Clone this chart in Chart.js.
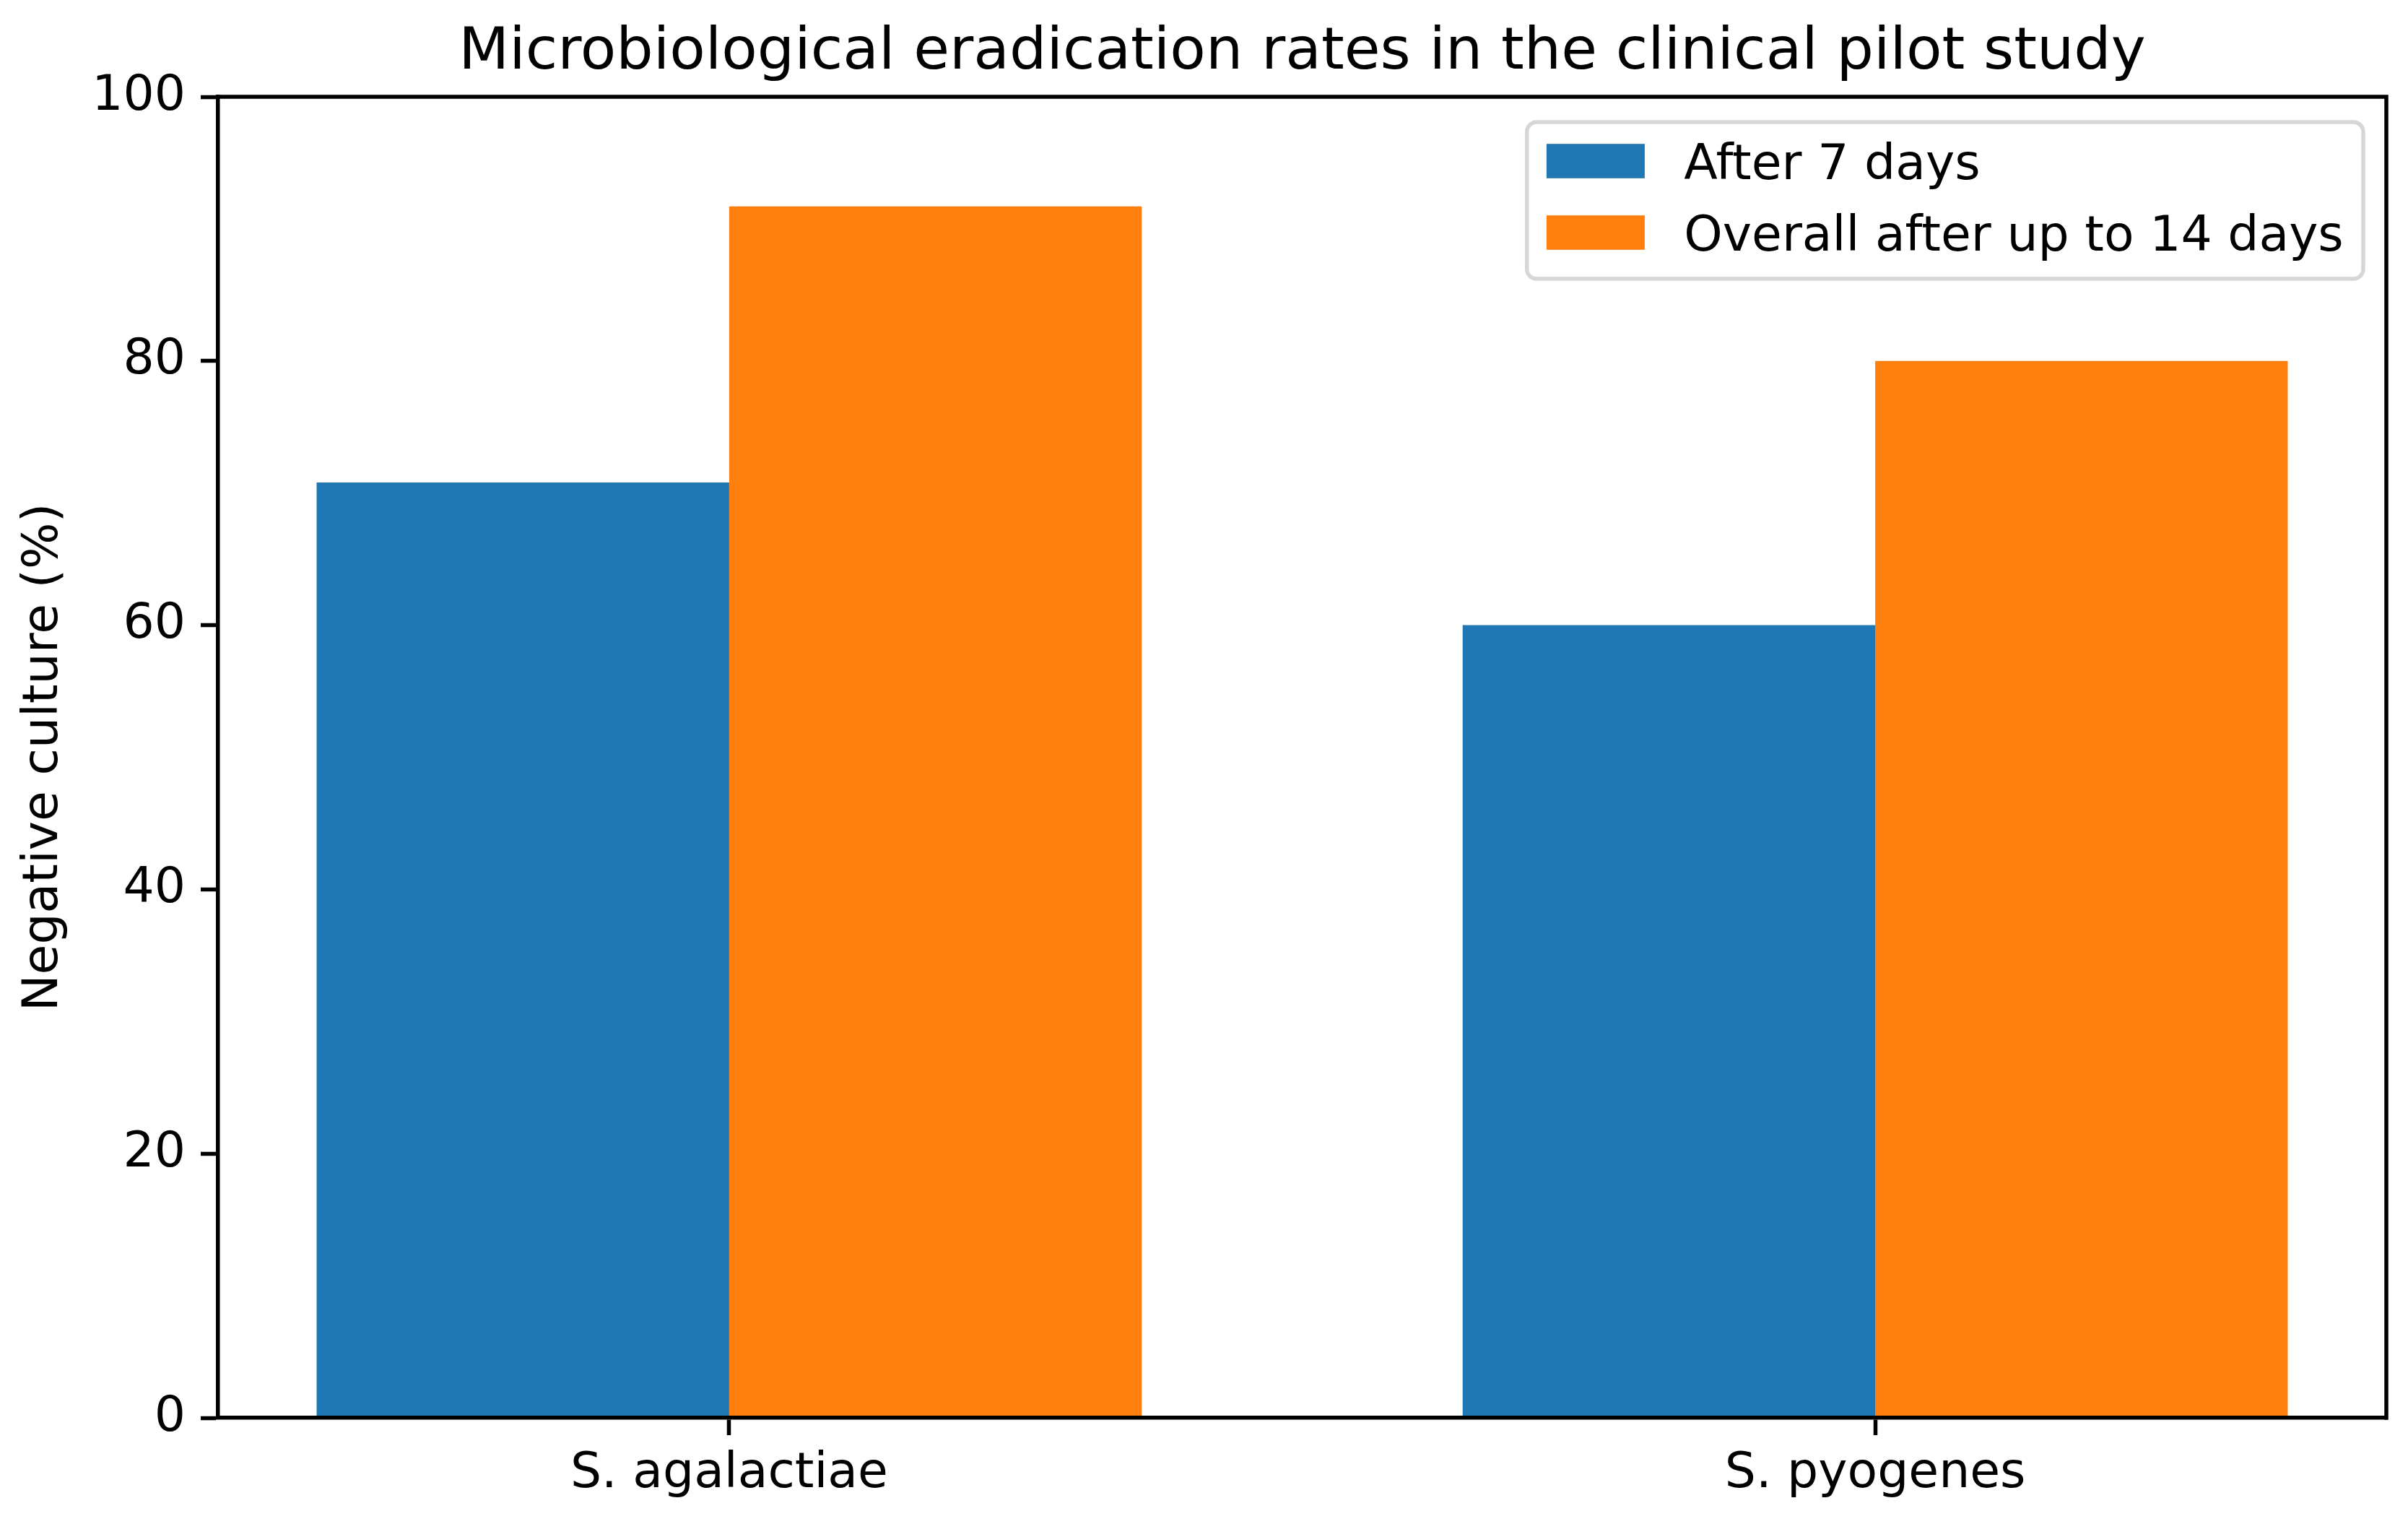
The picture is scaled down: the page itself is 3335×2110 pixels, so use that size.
<!DOCTYPE html>
<html>
<head>
<meta charset="utf-8">
<script src="https://cdn.jsdelivr.net/npm/chart.js@4.4.1/dist/chart.umd.min.js"></script>
<style>
html, body { margin: 0; padding: 0; background: #ffffff; }
#wrap { width: 3335px; height: 2110px; position: relative; }
</style>
</head>
<body>
<div id="wrap"><canvas id="c"></canvas></div>
<script>
// ---- data ----
const categories = ['S. agalactiae', 'S. pyogenes'];
const seriesNames = ['After 7 days', 'Overall after up to 14 days'];
const after7Days = [70.8, 60.0];
const overallUpTo14Days = [91.7, 80.0];
const yTickValues = [0, 20, 40, 60, 80, 100];
const titleText = 'Microbiological eradication rates in the clinical pilot study';
const yAxisTitle = 'Negative culture (%)';

// ---- style ----
const seriesColors = ['#1f77b4', '#ff7f0e'];
const FONT = "'DejaVu Sans', 'Liberation Sans', sans-serif";
const FS = 68;
const SPINE = 5.5;

const seriesValues = [after7Days, overallUpTo14Days];
const datasets = seriesNames.map((name, i) => ({
  label: name,
  data: categories.map((c, j) => ({ x: j, y: seriesValues[i][j] })),
  backgroundColor: seriesColors[i],
  borderWidth: 0,
  categoryPercentage: 0.72,
  barPercentage: 1.0
}));

Chart.defaults.font.family = FONT;
Chart.defaults.color = '#000000';

const framePlugin = {
  id: 'frame',
  afterDatasetsDraw(chart) {
    const { ctx, chartArea: a } = chart;
    ctx.save();
    ctx.strokeStyle = '#000000';
    ctx.lineWidth = SPINE;
    ctx.lineCap = 'square';
    ctx.beginPath();
    ctx.moveTo(a.left, a.top);
    ctx.lineTo(a.right, a.top);
    ctx.lineTo(a.right, a.bottom);
    ctx.stroke();
    ctx.restore();
  }
};

const legendPlugin = {
  id: 'mplLegend',
  afterDraw(chart) {
    const { ctx, chartArea: a } = chart;
    const ds = chart.data.datasets;
    ctx.save();
    ctx.font = `normal ${FS}px ${FONT}`;
    const pad = 0.4 * FS, hl = 2.0 * FS, hh = 0.7 * FS, tp = 0.8 * FS;
    let tw = 0;
    ds.forEach(d => { tw = Math.max(tw, ctx.measureText(d.label).width); });
    const w = pad + hl + tp + tw + pad;
    const h = 217;
    const right = a.right - 32;
    const top = a.top + 35;
    const left = right - w;
    const r = 0.2 * FS;
    ctx.beginPath();
    ctx.moveTo(left + r, top);
    ctx.lineTo(right - r, top);
    ctx.arcTo(right, top, right, top + r, r);
    ctx.lineTo(right, top + h - r);
    ctx.arcTo(right, top + h, right - r, top + h, r);
    ctx.lineTo(left + r, top + h);
    ctx.arcTo(left, top + h, left, top + h - r, r);
    ctx.lineTo(left, top + r);
    ctx.arcTo(left, top, left + r, top, r);
    ctx.closePath();
    ctx.fillStyle = 'rgba(255,255,255,0.8)';
    ctx.fill();
    ctx.lineWidth = 5.5;
    ctx.strokeStyle = '#d6d6d6';
    ctx.stroke();
    ds.forEach((d, i) => {
      const cy = top + 54 + i * 99;
      ctx.fillStyle = d.backgroundColor;
      ctx.fillRect(left + pad, cy - hh / 2, hl, hh);
      ctx.fillStyle = '#000000';
      ctx.textAlign = 'left';
      ctx.textBaseline = 'alphabetic';
      ctx.fillText(d.label, left + pad + hl + tp, cy + 25);
    });
    ctx.restore();
  }
};

new Chart(document.getElementById('c'), {
  type: 'bar',
  data: { datasets },
  plugins: [framePlugin, legendPlugin],
  options: {
    responsive: true,
    maintainAspectRatio: false,
    animation: false,
    layout: { padding: { left: 0, right: 30, top: 0, bottom: 0 } },
    plugins: {
      legend: { display: false },
      tooltip: { enabled: false },
      title: {
        display: true,
        text: titleText,
        fullSize: false,
        color: '#000000',
        font: { family: FONT, size: 81, weight: 'normal', lineHeight: 1 },
        padding: { top: 33, bottom: 20 }
      }
    },
    scales: {
      x: {
        type: 'linear',
        min: -0.446,
        max: 1.446,
        offset: false,
        bounds: 'data',
        afterBuildTicks: (scale) => { scale.ticks = categories.map((c, i) => ({ value: i })); },
        afterFit: (scale) => { scale.height = 147; },
        ticks: {
          callback: (v, i) => categories[i],
          font: { family: FONT, size: FS },
          color: '#000000',
          padding: 14,
          maxRotation: 0,
          autoSkip: false
        },
        grid: { offset: false, drawOnChartArea: false, drawTicks: true, tickLength: 24, tickWidth: SPINE, tickColor: '#000000' },
        border: { display: true, color: '#000000', width: SPINE, z: 1 }
      },
      y: {
        min: 0,
        max: 100,
        bounds: 'data',
        afterBuildTicks: (scale) => { scale.ticks = yTickValues.map(v => ({ value: v })); },
        afterFit: (scale) => { scale.width = 302; },
        ticks: {
          callback: (v) => String(v),
          font: { family: FONT, size: FS },
          color: '#000000',
          padding: 21
        },
        grid: { offset: false, drawOnChartArea: false, drawTicks: true, tickLength: 24, tickWidth: SPINE, tickColor: '#000000' },
        border: { display: true, color: '#000000', width: SPINE, z: 1 },
        title: {
          display: true,
          text: yAxisTitle,
          color: '#000000',
          font: { family: FONT, size: FS, weight: 'normal' },
          padding: { top: 21, bottom: 0 }
        }
      }
    }
  }
});
</script>
</body>
</html>
